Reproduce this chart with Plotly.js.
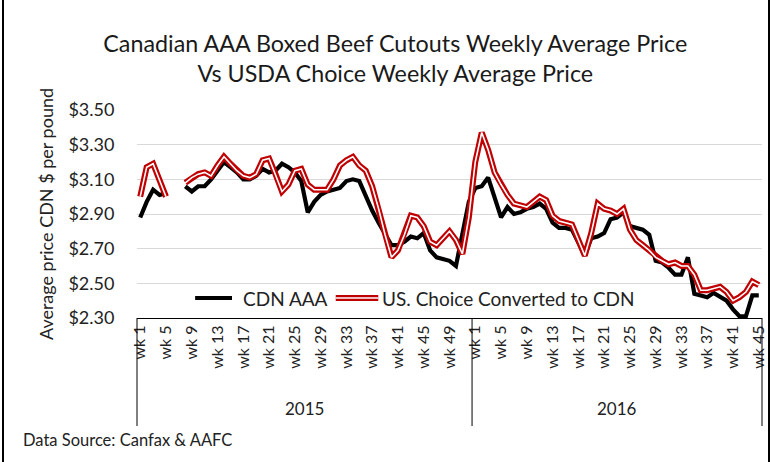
<!DOCTYPE html>
<html>
<head>
<meta charset="utf-8">
<script src="https://cdn.plot.ly/plotly-3.0.1.min.js"></script>
<style>html,body{margin:0;padding:0;background:#fff;}#chart{width:772px;height:462px;}</style>
</head>
<body>
<div id="chart"></div>
<script>
// ---- data ----
var year2015 = '2015';
var year2016 = '2016';
var weeks2015 = Array.from({length: 52}, function(_, i){ return 'wk ' + (i + 1); });
var weeks2016 = Array.from({length: 45}, function(_, i){ return 'wk ' + (i + 1); });

var cdn2015 = [2.88, 2.97, 3.04, 3.01, 3.02, null, null, 3.06, 3.03, 3.06,
               3.06, 3.10, 3.15, 3.20, 3.17, 3.14, 3.10, 3.10, 3.12, 3.16,
               3.14, 3.15, 3.19, 3.17, 3.14, 3.09, 2.91, 2.97, 3.01, 3.03,
               3.04, 3.05, 3.09, 3.10, 3.09, 3.00, 2.92, 2.85, 2.78, 2.72,
               2.72, 2.74, 2.77, 2.76, 2.79, 2.69, 2.65, 2.64, 2.63, 2.60,
               2.80, 2.97];
var us2015  = [3.00, 3.17, 3.19, 3.10, 3.00, null, null, 3.08, 3.11, 3.13,
               3.14, 3.12, 3.18, 3.23, 3.19, 3.15, 3.12, 3.11, 3.13, 3.21,
               3.22, 3.13, 3.03, 3.07, 3.15, 3.16, 3.07, 3.04, 3.04, 3.04,
               3.10, 3.18, 3.21, 3.23, 3.18, 3.15, 3.06, 2.93, 2.78, 2.65,
               2.69, 2.78, 2.89, 2.88, 2.83, 2.74, 2.72, 2.76, 2.80, 2.75,
               2.67, 2.88];
var cdn2016 = [3.05, 3.06, 3.11, 3.00, 2.88, 2.94, 2.90, 2.91, 2.93, 2.94,
               2.96, 2.93, 2.85, 2.82, 2.82, 2.81, 2.73, 2.66, 2.76, 2.77,
               2.79, 2.87, 2.88, 2.91, 2.83, 2.82, 2.81, 2.78, 2.63, 2.62,
               2.59, 2.55, 2.55, 2.65, 2.44, 2.43, 2.42, 2.445, 2.42, 2.40,
               2.35, 2.31, 2.31, 2.43, 2.43];
var us2016  = [3.20, 3.37, 3.27, 3.14, 3.07, 3.01, 2.96, 2.95, 2.94, 2.97,
               3.00, 2.98, 2.89, 2.86, 2.85, 2.84, 2.75, 2.66, 2.79, 2.96,
               2.93, 2.92, 2.90, 2.93, 2.81, 2.75, 2.72, 2.69, 2.65, 2.63,
               2.61, 2.62, 2.60, 2.60, 2.55, 2.46, 2.46, 2.47, 2.48, 2.45,
               2.40, 2.42, 2.45, 2.51, 2.49];

var yTicks = [2.30, 2.50, 2.70, 2.90, 3.10, 3.30, 3.50];
var seriesNames = ['CDN AAA', 'US. Choice Converted to CDN'];

// ---- build categories ----
var cats = [], labelsAll = [];
weeks2015.forEach(function(w){ cats.push(year2015 + ' ' + w); labelsAll.push(w); });
weeks2016.forEach(function(w){ cats.push(year2016 + ' ' + w); labelsAll.push(w); });
var tickvals = [], ticktext = [];
cats.forEach(function(c, i){
  var n = parseInt(labelsAll[i].replace('wk ', ''), 10);
  if ((n - 1) % 4 === 0) { tickvals.push(c); ticktext.push(labelsAll[i]); }
});
var cdnAll = cdn2015.concat(cdn2016);
var usAll = us2015.concat(us2016);
var nTot = cats.length;
var n15 = weeks2015.length;

var FONT = 'Lato, "Open Sans", sans-serif';

var traces = [
  {x: cats, y: cdnAll, type: 'scatter', mode: 'lines', name: seriesNames[0],
   line: {color: '#000000', width: 4.2}, connectgaps: false, showlegend: false, hoverinfo: 'skip'},
  {x: cats, y: usAll, type: 'scatter', mode: 'lines', name: seriesNames[1],
   line: {color: '#c00000', width: 6}, connectgaps: false, showlegend: false, hoverinfo: 'skip'},
  {x: cats, y: usAll, type: 'scatter', mode: 'lines', name: seriesNames[1] + ' (inner)',
   line: {color: '#ffffff', width: 1.6}, connectgaps: false, showlegend: false, hoverinfo: 'skip'}
];

var plotW = 772 - 137 - 10;
var plotH = 462 - 110 - 144;
var divBottom = -108 / plotH;

var shapes = [
  // dividers under the category axis
  {type: 'line', xref: 'paper', yref: 'paper', x0: 0, x1: 0, y0: 0, y1: divBottom, line: {color: '#000', width: 1}},
  {type: 'line', xref: 'paper', yref: 'paper', x0: n15 / nTot, x1: n15 / nTot, y0: 0, y1: divBottom, line: {color: '#000', width: 1}},
  {type: 'line', xref: 'paper', yref: 'paper', x0: 1, x1: 1, y0: 0, y1: divBottom, line: {color: '#000', width: 1}},
  // outer frame (left / right edges)
  {type: 'line', xref: 'paper', yref: 'paper', x0: -134 / plotW, x1: -134 / plotW, y0: -144 / plotH, y1: 1 + 110 / plotH, line: {color: '#000', width: 2}},
  {type: 'line', xref: 'paper', yref: 'paper', x0: 1 + 7 / plotW, x1: 1 + 7 / plotW, y0: -144 / plotH, y1: 1 + 110 / plotH, line: {color: '#000', width: 2}},
  // manual legend symbols
  {type: 'line', xref: 'paper', yref: 'paper', x0: 0.093, x1: 0.152, y0: 0.096, y1: 0.096, line: {color: '#000', width: 4}},
  {type: 'line', xref: 'paper', yref: 'paper', x0: 0.318, x1: 0.386, y0: 0.096, y1: 0.096, line: {color: '#c00000', width: 6}},
  {type: 'line', xref: 'paper', yref: 'paper', x0: 0.318, x1: 0.386, y0: 0.096, y1: 0.096, line: {color: '#fff', width: 1.6}}
];

var annotations = [
  {xref: 'paper', yref: 'paper', x: (n15 / 2) / nTot, y: -90 / plotH, text: year2015, showarrow: false,
   font: {family: FONT, size: 17, color: '#222'}, xanchor: 'center', yanchor: 'middle'},
  {xref: 'paper', yref: 'paper', x: (n15 + (nTot - n15) / 2) / nTot, y: -90 / plotH, text: year2016, showarrow: false,
   font: {family: FONT, size: 17, color: '#222'}, xanchor: 'center', yanchor: 'middle'},
  {xref: 'paper', yref: 'paper', x: 0.166, y: 0.096, text: seriesNames[0], showarrow: false,
   font: {family: FONT, size: 19, color: '#222'}, xanchor: 'left', yanchor: 'middle'},
  {xref: 'paper', yref: 'paper', x: 0.389, y: 0.096, text: seriesNames[1], showarrow: false,
   font: {family: FONT, size: 19, color: '#222'}, xanchor: 'left', yanchor: 'middle'},
  {xref: 'paper', yref: 'paper', x: -116 / plotW, y: -122 / plotH, text: 'Data Source: Canfax &amp; AAFC', showarrow: false,
   font: {family: FONT, size: 16.5, color: '#222'}, xanchor: 'left', yanchor: 'middle'}
];

var layout = {
  width: 772, height: 462,
  margin: {l: 137, r: 10, t: 110, b: 144},
  paper_bgcolor: '#ffffff', plot_bgcolor: '#ffffff',
  font: {family: FONT, color: '#222'},
  title: {text: 'Canadian AAA Boxed Beef Cutouts Weekly Average Price<br>Vs USDA Choice Weekly Average Price',
          x: 0.512, xanchor: 'center', xref: 'container', yref: 'container', y: 1 - 52 / 462, yanchor: 'middle',
          font: {family: FONT, size: 23.3, color: '#1a1a1a'}},
  showlegend: false,
  xaxis: {type: 'category', categoryorder: 'array', categoryarray: cats,
          range: [-0.5, nTot - 0.5], tickmode: 'array', tickvals: tickvals, ticktext: ticktext,
          tickangle: -90, tickfont: {family: FONT, size: 16, color: '#222'},
          showgrid: false, showline: true, linecolor: '#000', linewidth: 1, ticks: '',
          zeroline: false, fixedrange: true},
  yaxis: {range: [2.30, 3.50], tickmode: 'array', tickvals: yTicks, tickformat: '$.2f',
          tickfont: {family: FONT, size: 18, color: '#222'},
          showgrid: true, gridcolor: '#d9d9d9', gridwidth: 1, showline: false, zeroline: false,
          ticks: 'outside', ticklen: 18, tickcolor: 'rgba(0,0,0,0)',
          title: {text: 'Average price CDN $ per pound', standoff: 10, font: {family: FONT, size: 18, color: '#222'}},
          fixedrange: true},
  shapes: shapes,
  annotations: annotations
};

Plotly.newPlot('chart', traces, layout, {staticPlot: true, displayModeBar: false});
</script>
</body>
</html>
